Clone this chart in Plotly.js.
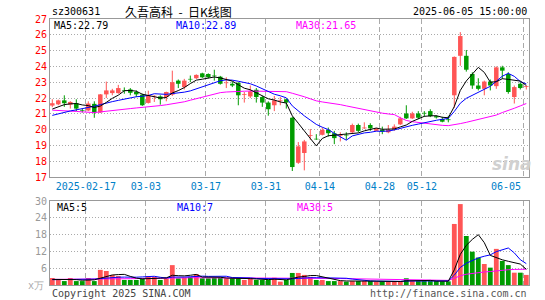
<!DOCTYPE html>
<html><head><meta charset="utf-8">
<script src="https://cdn.plot.ly/plotly-3.0.1.min.js"></script>
<style>html,body{margin:0;padding:0;background:#fff}#chart{width:545px;height:300px}</style>
</head><body><div id="chart"></div>
<script>
const dates = ['02-07','02-10','02-11','02-12','02-13','02-14','02-17','02-18','02-19','02-20',
'02-21','02-24','02-25','02-26','02-27','02-28','03-03','03-04','03-05','03-06',
'03-07','03-10','03-11','03-12','03-13','03-14','03-17','03-18','03-19','03-20',
'03-21','03-24','03-25','03-26','03-27','03-28','03-31','04-01','04-02','04-03',
'04-07','04-08','04-09','04-10','04-11','04-14','04-15','04-16','04-17','04-18',
'04-21','04-22','04-23','04-24','04-25','04-28','04-29','04-30','05-06','05-07',
'05-08','05-09','05-12','05-13','05-14','05-15','05-16','05-19','05-20','05-21',
'05-22','05-23','05-26','05-27','05-28','05-29','05-30','06-03','06-04','06-05'];
const open = [21.52,21.60,21.85,21.58,21.67,21.20,21.21,21.63,21.08,22.23,
22.31,22.31,22.50,22.54,22.38,22.21,21.69,22.10,22.10,22.06,
22.21,23.10,22.69,23.20,23.25,23.56,23.52,23.42,23.35,22.94,
22.90,22.96,22.20,22.10,22.52,22.06,21.71,21.54,21.83,21.92,
20.75,17.90,18.52,19.60,19.42,19.67,19.98,19.77,19.60,19.67,
19.83,20.29,20.08,20.29,19.92,19.98,19.83,20.04,20.33,21.02,
20.71,21.02,21.06,21.17,20.85,20.67,20.65,22.17,24.67,24.67,
23.52,22.79,22.58,23.04,22.75,23.94,23.52,22.06,22.90,22.70];
const high = [21.92,21.90,22.17,21.80,21.92,21.33,21.79,21.79,22.25,23.04,
22.58,22.83,22.67,22.63,22.48,22.27,22.46,22.17,22.17,22.40,
23.73,23.17,23.21,23.42,23.50,23.60,23.56,23.79,23.40,23.31,
23.04,23.00,22.38,22.79,22.63,22.13,21.79,22.13,22.06,21.96,
20.81,19.21,19.35,20.04,19.71,20.13,20.13,19.92,19.83,19.83,
20.38,20.38,20.46,20.40,20.10,20.19,20.29,20.33,20.81,21.54,
21.13,21.17,21.17,21.29,20.90,20.81,20.88,24.63,26.17,25.04,
23.63,23.25,23.10,23.17,24.00,24.04,23.63,22.79,23.00,22.79];
const low = [21.42,21.55,21.44,21.33,21.17,21.08,21.17,20.75,21.05,22.00,
22.17,22.27,22.27,22.17,22.06,21.50,21.65,21.75,21.58,21.79,
22.13,22.63,22.54,23.00,23.20,23.27,23.25,23.10,22.85,22.63,
22.69,21.54,21.71,22.00,21.71,21.44,20.88,21.17,21.54,21.33,
17.38,17.83,17.42,19.35,19.35,19.63,19.56,19.08,19.25,19.35,
19.77,19.83,20.04,19.92,19.90,19.71,19.77,19.92,20.29,20.67,
20.67,20.67,20.81,20.79,20.70,20.46,20.46,21.38,24.04,23.67,
22.58,22.48,22.17,22.48,22.58,23.21,22.27,21.65,22.54,22.54];
const close = [21.67,21.85,21.67,21.75,21.33,21.18,21.65,21.08,22.23,22.48,
22.48,22.63,22.46,22.33,22.23,21.54,22.17,22.13,21.92,22.38,
23.00,22.90,23.10,23.17,23.46,23.31,23.31,23.38,22.90,22.98,
22.79,22.17,22.25,22.42,22.06,21.71,21.29,21.85,21.86,21.71,
17.63,18.94,19.25,19.65,19.38,19.98,19.77,19.46,19.65,19.63,
20.29,19.92,20.13,20.08,20.08,19.88,19.98,20.19,20.71,20.71,
21.02,20.75,21.02,20.85,20.77,20.50,20.60,24.60,25.92,23.79,
22.79,22.58,23.04,22.79,23.94,23.73,22.38,22.69,22.63,22.75];
const volume = [2.5,1.8,1.4,2.5,1.4,1.4,2.5,1.4,5.4,5.0,
3.6,3.2,1.8,1.8,1.8,2.4,3.2,2.9,1.8,2.4,
7.1,2.4,2.6,2.9,3.9,2.4,2.4,2.6,2.6,2.4,
2.4,2.4,1.8,2.4,1.8,1.8,1.8,2.6,1.2,1.8,
4.3,4.3,3.6,2.9,1.8,1.8,1.4,1.4,1.4,1.2,
1.4,1.4,1.4,1.4,1.2,1.2,1.2,1.2,1.4,2.4,
1.4,1.4,1.4,1.4,1.4,1.3,1.3,21.8,28.9,17.5,
11.9,9.8,7.5,6.2,12.9,8.6,7.1,4.4,4.4,3.6];
const ma5 = [21.30,21.45,21.58,21.63,21.65,21.56,21.52,21.40,21.49,21.72,
21.98,22.18,22.46,22.48,22.43,22.24,22.15,22.08,22.00,22.03,
22.32,22.47,22.66,22.91,23.13,23.19,23.27,23.33,23.27,23.18,
23.07,22.84,22.62,22.52,22.34,22.12,21.95,21.87,21.75,21.68,
20.87,20.40,19.88,19.44,18.97,19.44,19.61,19.65,19.65,19.70,
19.76,19.79,19.92,20.01,20.10,20.02,20.03,20.04,20.17,20.29,
20.52,20.68,20.84,20.87,20.88,20.78,20.75,21.46,22.48,23.08,
23.54,23.94,23.62,23.00,23.03,23.22,23.18,23.11,23.07,22.79];
const ma10 = [20.90,21.00,21.10,21.18,21.25,21.32,21.40,21.48,21.58,21.69,
21.77,21.85,21.93,21.99,22.08,22.11,22.16,22.27,22.24,22.23,
22.28,22.31,22.37,22.45,22.58,22.75,22.87,22.99,23.09,23.15,
23.13,23.06,22.97,22.90,22.76,22.60,22.40,22.24,22.14,22.01,
21.50,21.17,20.87,20.60,20.33,20.15,20.00,19.76,19.54,19.33,
19.60,19.70,19.79,19.83,19.90,19.89,19.91,19.98,20.09,20.20,
20.27,20.35,20.44,20.52,20.59,20.65,20.71,21.15,21.67,21.98,
22.16,22.34,22.54,22.74,23.06,23.38,23.56,23.37,23.04,22.89];
const ma30 = [21.23,21.22,21.20,21.18,21.15,21.12,21.10,21.08,21.12,21.17,
21.20,21.25,21.29,21.33,21.37,21.40,21.42,21.47,21.52,21.57,
21.62,21.68,21.76,21.86,21.96,22.08,22.18,22.27,22.34,22.38,
22.41,22.42,22.43,22.44,22.44,22.44,22.44,22.44,22.44,22.40,
22.30,22.20,22.08,21.95,21.82,21.75,21.70,21.65,21.58,21.50,
21.42,21.33,21.25,21.17,21.10,21.04,20.99,20.95,20.75,20.58,
20.50,20.45,20.42,20.37,20.30,20.27,20.25,20.30,20.38,20.46,
20.55,20.63,20.72,20.81,20.92,21.08,21.20,21.35,21.50,21.65];
const volMa5 = [2.0,2.0,1.95,1.95,1.92,1.70,1.84,1.84,2.42,3.14,
3.58,3.72,3.80,3.08,2.44,2.20,2.20,2.42,2.42,2.54,
3.48,3.32,3.26,3.48,3.78,2.84,2.84,2.84,2.78,2.48,
2.48,2.48,2.32,2.28,2.16,2.04,1.92,2.08,1.84,1.84,
2.34,2.84,3.04,3.38,3.38,2.88,2.30,1.86,1.56,1.44,
1.36,1.36,1.40,1.40,1.36,1.32,1.28,1.24,1.24,1.48,
1.52,1.56,1.60,1.64,1.40,1.38,1.36,5.44,10.94,14.16,
16.28,17.98,15.12,10.58,9.66,9.00,8.46,7.84,7.48,5.62];
const volMa10 = [1.9,1.9,1.9,1.95,2.0,2.0,2.05,2.1,2.3,2.53,
2.64,2.78,2.82,2.75,2.79,2.89,2.96,3.11,2.75,2.49,
2.84,2.76,2.84,2.95,3.16,3.16,3.08,3.05,3.13,3.13,
2.66,2.66,2.58,2.53,2.32,2.26,2.20,2.20,2.06,2.00,
2.19,2.38,2.56,2.61,2.61,2.61,2.57,2.45,2.47,2.41,
2.12,1.83,1.61,1.46,1.40,1.34,1.32,1.30,1.30,1.42,
1.42,1.42,1.42,1.42,1.44,1.45,1.46,3.52,6.27,7.78,
8.83,9.67,10.28,10.76,11.91,12.64,13.22,11.48,9.03,7.64];
const volMa30 = [2.0,2.0,2.0,2.0,2.0,2.0,2.0,2.0,2.05,2.1,
2.15,2.2,2.2,2.25,2.3,2.3,2.35,2.4,2.4,2.45,
2.5,2.5,2.55,2.6,2.6,2.6,2.6,2.6,2.6,2.6,
2.6,2.6,2.6,2.6,2.6,2.6,2.6,2.6,2.55,2.55,
2.55,2.55,2.5,2.5,2.5,2.45,2.4,2.35,2.3,2.25,
2.2,2.15,2.1,2.05,2.0,2.0,1.95,1.9,1.85,1.8,
1.75,1.7,1.7,1.7,1.68,1.66,1.65,2.4,3.3,3.85,
4.2,4.45,4.65,4.8,5.1,5.3,5.45,5.55,5.6,5.64];
const tickDates = ['02-17','03-03','03-17','03-31','04-14','04-28','05-12','06-05'];
const tickLabels = ['2025-02-17','03-03','03-17','03-31','04-14','04-28','05-12','06-05'];
const priceTicks = [17,18,19,20,21,22,23,24,25,26,27];
const volTicks = [6,12,18,24,30];
const maLabels = ['MA5:22.79','MA10:22.89','MA30:21.65'];
const volMaLabels = ['MA5:5','MA10:7','MA30:5'];

const RED = '#ff5555', GREEN = '#009c00', XLAB = '#0080c8';
const MONO = 'DejaVu Sans Mono, monospace';
const xs = dates.map((d,i)=>i);
const isUp = xs.map(i => close[i] >= open[i]);
const colors = isUp.map(u => u ? RED : GREEN);

function wick(up){
  const wx=[], wy=[];
  xs.forEach(i=>{ if(isUp[i]===up){ wx.push(i,i,null); wy.push(low[i],high[i],null);} });
  return {type:'scatter',mode:'lines',x:wx,y:wy,xaxis:'x',yaxis:'y',
    line:{color:up?RED:GREEN,width:1},hoverinfo:'skip'};
}
const traces = [
  wick(true), wick(false),
  {type:'bar',x:xs,base:xs.map(i=>Math.min(open[i],close[i])),
   y:xs.map(i=>Math.max(Math.abs(close[i]-open[i]),0.04)),
   width:0.75,marker:{color:colors,line:{width:0}},xaxis:'x',yaxis:'y'},
  {type:'scatter',mode:'lines',x:xs,y:ma30,line:{color:'#ff00ff',width:1},xaxis:'x',yaxis:'y'},
  {type:'scatter',mode:'lines',x:xs,y:ma10,line:{color:'#0000ff',width:1},xaxis:'x',yaxis:'y'},
  {type:'scatter',mode:'lines',x:xs,y:ma5,line:{color:'#000000',width:1},xaxis:'x',yaxis:'y'},
  {type:'bar',x:xs,y:volume,width:0.8,marker:{color:colors,line:{width:0}},xaxis:'x2',yaxis:'y2'},
  {type:'scatter',mode:'lines',x:xs,y:volMa30,line:{color:'#ff00ff',width:1},xaxis:'x2',yaxis:'y2'},
  {type:'scatter',mode:'lines',x:xs,y:volMa10,line:{color:'#0000ff',width:1},xaxis:'x2',yaxis:'y2'},
  {type:'scatter',mode:'lines',x:xs,y:volMa5,line:{color:'#000000',width:1},xaxis:'x2',yaxis:'y2'}
];

const tickvals = tickDates.map(d => dates.indexOf(d) - 0.4);
const lastK = tickLabels.length - 1;
// last label is drawn pulled inside the frame (as in the reference), so the tick itself carries no text
const ticktext = tickLabels.map((t,k) => k === lastK ? '' : t);
const xr = [-0.383, 79.45];
const frame = {showline:true,mirror:true,linecolor:'#999',linewidth:1,zeroline:false,fixedrange:true};

// pixel -> paper helpers for text placement
const L=50, T=19, W=479, H=266;
const px = x => (x-L)/W, py = y => (T+H-y)/H;
function txt(text,x,y,color,anchor,size,family){
  return {text:text,x:px(x),y:py(y),xref:'paper',yref:'paper',showarrow:false,
    xanchor:anchor||'left',yanchor:'middle',font:{family:family||MONO,size:size||10,color:color}};
}
const NB = '\u00a0';
const annotations = [
  txt('sz300631',50,12,'#000'),
  txt('久吾高科'+NB+NB+'-'+NB+NB+'日K线图',178,12,'#000','center',12,'Noto Sans CJK SC, sans-serif'),
  txt('2025-06-05 15:00:00',529,12,'#000','right'),
  txt(maLabels[0],52,25,'#000'),
  txt(maLabels[1],174,25,'#0000ff'),
  txt(maLabels[2],294,25,'#ff00ff'),
  txt(volMaLabels[0],55,207,'#000'),
  txt(volMaLabels[1],175,207,'#0000ff'),
  txt(volMaLabels[2],295,207,'#ff00ff'),
  txt('Copyright 2025 SINA.COM',50,293,'#444'),
  txt('http://finance.sina.com.cn',529,293,'#555','right'),
  txt('x万',46,285,'#aaa','right',10),
  txt(tickLabels[lastK],523,186,XLAB,'right'),
  txt('<b><i>sina</i></b>',512,164,'#d0d0d0','center',17,'DejaVu Sans, sans-serif')
];

const layout = {
  width:545,height:300,margin:{l:L,r:16,t:T,b:15},
  paper_bgcolor:'#fff',plot_bgcolor:'#fff',showlegend:false,barmode:'overlay',
  hovermode:false,font:{family:MONO,size:10},
  xaxis:Object.assign({},frame,{domain:[0,1],anchor:'y',range:xr,tickmode:'array',tickvals:tickvals,ticktext:ticktext,
    showgrid:true,gridcolor:'#aaa',griddash:'5px,3px',gridwidth:1,ticks:'',
    tickfont:{family:MONO,size:10,color:XLAB}}),
  yaxis:Object.assign({},frame,{domain:[(285-177)/266,1],anchor:'x',range:[17,27],tickmode:'array',tickvals:priceTicks,
    showgrid:true,gridcolor:'#aaa',griddash:'1px,2px',ticks:'',
    tickfont:{family:MONO,size:10,color:'#ff0000'}}),
  xaxis2:Object.assign({},frame,{domain:[0,1],anchor:'y2',range:xr,tickmode:'array',tickvals:tickvals,
    showticklabels:false,showgrid:true,gridcolor:'#aaa',griddash:'5px,3px',ticks:''}),
  yaxis2:Object.assign({},frame,{domain:[0,84/266],anchor:'x2',range:[0,30],tickmode:'array',tickvals:volTicks,
    showgrid:true,gridcolor:'#aaa',griddash:'1px,2px',ticks:'',
    tickfont:{family:MONO,size:10,color:'#999'}}),
  annotations:annotations
};
Plotly.newPlot('chart',traces,layout,{staticPlot:true,displayModeBar:false});
</script></body></html>
